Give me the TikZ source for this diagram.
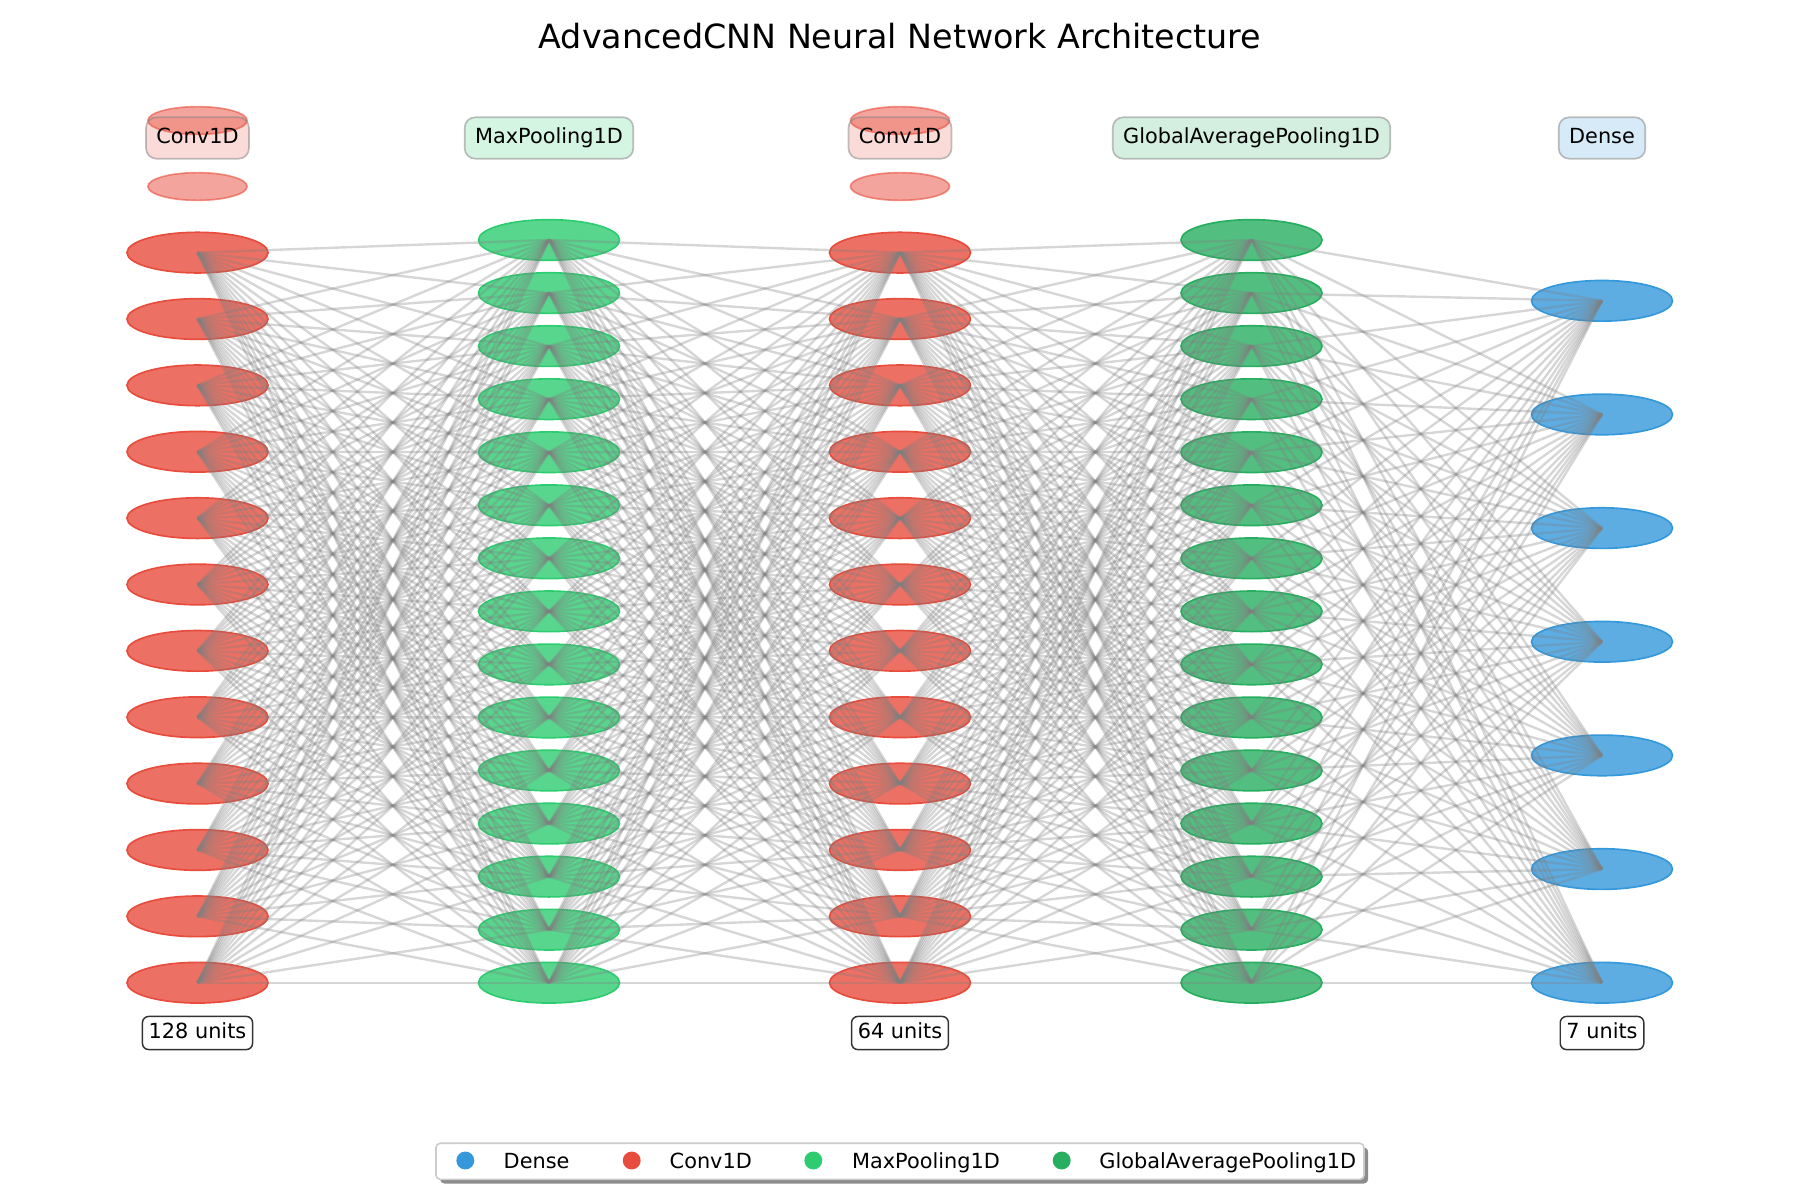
\documentclass[tikz,border=0pt]{standalone}
\usepackage{fontspec}
\setmainfont{DejaVu Sans}
\usetikzlibrary{shapes.geometric,shadows}
\definecolor{convc}{HTML}{E74C3C}
\definecolor{poolc}{HTML}{2ECC71}
\definecolor{gapc}{HTML}{27AE60}
\definecolor{densec}{HTML}{3498DB}
\tikzset{% 
    neuron/.style={ellipse,inner sep=0pt,minimum width=67.7pt,minimum height=19.5pt,fill opacity=0.8,line width=0.8pt},
    fadedneuron/.style={ellipse,inner sep=0pt,minimum width=47.6pt,minimum height=13.3pt,fill opacity=0.5,draw opacity=0.6,line width=0.8pt},
    wire/.style={gray,opacity=0.32,line width=1.15pt},
    layerlbl/.style={rounded corners=5pt,inner sep=5pt,text height=7.6pt,text depth=2.3pt,draw=gray,draw opacity=0.5,fill opacity=0.2,text opacity=1,line width=0.8pt},
    unitslbl/.style={rounded corners=3pt,inner sep=3pt,text height=7.6pt,text depth=2.3pt,draw=black!80,fill=white,line width=0.7pt},
    keydot/.style={circle,inner sep=0pt,minimum size=8.6pt}
}

\begin{document}
\begin{tikzpicture}[x=0.48pt,y=-0.48pt]
        \useasboundingbox (0,0) rectangle (1800,1200);
        \node[font=\fontsize{16}{19}\selectfont] (title) at (900,35.6) {AdvancedCNN Neural Network Architecture};
        \node[fadedneuron,fill=convc,draw=convc] (am1) at (197.5,120.5){};
        \node[fadedneuron,fill=convc,draw=convc] (a0) at (197.5,186.5){};
        \node[fadedneuron,fill=convc,draw=convc] (cm1) at (900,120.5){};
        \node[fadedneuron,fill=convc,draw=convc] (c0) at (900,186.5){};
        \foreach \k in {1,...,12}{
            \node[neuron,fill=convc,draw=convc] (a\k) at (197.5,{982.7-(12-\k)*66.37}){};
            \node[neuron,fill=convc,draw=convc] (c\k) at (900,{982.7-(12-\k)*66.37}){};
        }
        \foreach \k in {1,...,15}{
            \node[neuron,fill=poolc,draw=poolc] (b\k) at (549,{982.7-(15-\k)*53.05}){};
            \node[neuron,fill=gapc,draw=gapc] (d\k) at (1251.5,{982.7-(15-\k)*53.05}){};
        }
        \foreach \k in {1,...,7}
            \node[neuron,fill=densec,draw=densec] (e\k) at (1602,{982.7-(7-\k)*113.65}){};
        \foreach \i in {1,...,12}
            \foreach \j in {1,...,15}{
                \draw[wire] (a\i.center) -- (b\j.center);
                \draw[wire] (b\j.center) -- (c\i.center);
                \draw[wire] (c\i.center) -- (d\j.center);
            }
        \foreach \i in {1,...,15}
            \foreach \j in {1,...,7}
                \draw[wire] (d\i.center) -- (e\j.center);
        \node[layerlbl,fill=convc] (la) at (197.5,138){Conv1D};
        \node[layerlbl,fill=poolc] (lb) at (549,138){MaxPooling1D};
        \node[layerlbl,fill=convc] (lc) at (900,138){Conv1D};
        \node[layerlbl,fill=gapc] (ld) at (1251.5,138){GlobalAveragePooling1D};
        \node[layerlbl,fill=densec] (le) at (1602,138){Dense};
        \node[unitslbl] (ua) at (197.5,1033){128 units};
        \node[unitslbl] (uc) at (900,1033){64 units};
        \node[unitslbl] (ue) at (1602,1033){7 units};
        \node[draw=gray!40,fill=white,rounded corners=2pt,line width=0.8pt,minimum width=445.4pt,minimum height=17.3pt,
            drop shadow={shadow xshift=2pt,shadow yshift=-2pt,fill=black!45,opacity=1}] (legend) at (900,1161.3){};
        \node[keydot,fill=densec] (kd) at (465.3,1160.5){};
        \node[anchor=base west,inner sep=0pt] (td) at (503.3,1168.3){Dense};
        \node[keydot,fill=convc] (kc) at (631.7,1160.5){};
        \node[anchor=base west,inner sep=0pt] (tc) at (669.3,1168.3){Conv1D};
        \node[keydot,fill=poolc] (kb) at (813.3,1160.5){};
        \node[anchor=base west,inner sep=0pt] (tb) at (851.7,1168.3){MaxPooling1D};
        \node[keydot,fill=gapc] (kg) at (1061.7,1160.5){};
        \node[anchor=base west,inner sep=0pt] (tg) at (1099,1168.3){GlobalAveragePooling1D};
    \end{tikzpicture}
\end{document}
